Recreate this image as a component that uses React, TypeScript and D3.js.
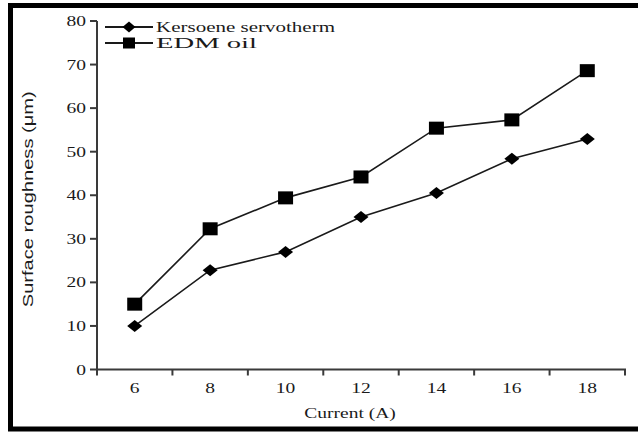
import { useEffect, useRef } from "react";
import * as d3 from "d3";

const categories = ["6", "8", "10", "12", "14", "16", "18"];
const kerosene = [10, 22.8, 27, 35, 40.5, 48.4, 52.9];
const edmOil = [15, 32.3, 39.4, 44.2, 55.4, 57.3, 68.6];
const yTicks = [0, 10, 20, 30, 40, 50, 60, 70, 80];
const seriesNames = ["Kersoene servotherm", "EDM oil"];

const W = 638;
const H = 432;
const SX = 1.3; // the source image is stretched sideways

export default function App() {
  const svgRef = useRef<SVGSVGElement>(null);

  useEffect(() => {
    if (!svgRef.current) return;
    const svg = d3.select(svgRef.current);
    svg.selectAll("*").remove();

    const ink = "#1a1a1a";
    const axisInk = "#3a3a3a";

    const x = d3.scaleBand<string>().domain(categories).range([97, 625]).padding(0);
    const y = d3.scaleLinear().domain([0, 80]).range([369.5, 21]);
    const bw = x.bandwidth();
    const cx = (c: string) => (x(c) as number) + bw / 2;

    // frame
    svg.append("rect")
      .attr("x", 10.5).attr("y", 5.5)
      .attr("width", 700).attr("height", 423.5)
      .attr("fill", "white")
      .attr("stroke", "#000").attr("stroke-width", 5);

    const stretched = (g: any, tx: number, ty: number, txt: string, anchor: string, size: number) =>
      g.append("text")
        .attr("transform", `translate(${tx},${ty}) scale(${SX},1)`)
        .attr("text-anchor", anchor)
        .attr("font-family", "'Liberation Serif', 'Times New Roman', serif")
        .attr("font-size", size)
        .attr("fill", ink)
        .text(txt);

    // y axis
    const y0 = y(0);
    svg.append("line")
      .attr("x1", 97).attr("x2", 97).attr("y1", y(80)).attr("y2", y0 + 1)
      .attr("stroke", axisInk).attr("stroke-width", 2);
    yTicks.forEach((t) => {
      svg.append("line")
        .attr("x1", 90).attr("x2", 97).attr("y1", y(t)).attr("y2", y(t))
        .attr("stroke", axisInk).attr("stroke-width", 2);
      stretched(svg, 86, y(t) + 5, String(t), "end", 15);
    });

    // x axis
    const [xa, xb] = x.range();
    svg.append("line")
      .attr("x1", xa - 1).attr("x2", xb + 1).attr("y1", y0).attr("y2", y0)
      .attr("stroke", axisInk).attr("stroke-width", 2);
    const edges = categories.map((c) => x(c) as number).concat([xb]);
    edges.forEach((e) => {
      svg.append("line")
        .attr("x1", e).attr("x2", e).attr("y1", y0).attr("y2", y0 + 6)
        .attr("stroke", axisInk).attr("stroke-width", 2);
    });
    categories.forEach((c) => stretched(svg, cx(c), 393, c, "middle", 15));

    stretched(svg, 350, 418, "Current (A)", "middle", 15);

    svg.append("text")
      .attr("transform", `translate(33,${(y(80) + y0) / 2 + 4}) rotate(-90)`)
      .attr("text-anchor", "middle")
      .attr("font-family", "'Liberation Sans', Arial, sans-serif")
      .attr("font-size", 15)
      .attr("textLength", 216)
      .attr("lengthAdjust", "spacingAndGlyphs")
      .attr("fill", ink)
      .text("Surface roughness (\u03bcm)");

    const line = d3.line<number>()
      .x((_, i) => cx(categories[i]))
      .y((d) => y(d));

    const diamond = (g: any, px: number, py: number, w: number, h: number) =>
      g.append("path")
        .attr("d", `M${px - w / 2},${py}L${px},${py - h / 2}L${px + w / 2},${py}L${px},${py + h / 2}Z`)
        .attr("fill", "#000");
    const square = (g: any, px: number, py: number, w: number, h: number) =>
      g.append("rect")
        .attr("x", px - w / 2).attr("y", py - h / 2)
        .attr("width", w).attr("height", h)
        .attr("fill", "#000");

    [kerosene, edmOil].forEach((vals, si) => {
      svg.append("path")
        .attr("d", line(vals) as string)
        .attr("fill", "none")
        .attr("stroke", ink)
        .attr("stroke-width", 1.6);
      vals.forEach((v, i) => {
        if (si === 0) diamond(svg, cx(categories[i]), y(v), 15, 12);
        else square(svg, cx(categories[i]), y(v), 15, 13);
      });
    });

    // legend
    const legendY = [27, 43];
    seriesNames.forEach((name, i) => {
      const ly = legendY[i];
      svg.append("line")
        .attr("x1", 105).attr("x2", 153).attr("y1", ly).attr("y2", ly)
        .attr("stroke", ink).attr("stroke-width", 1.8);
      if (i === 0) diamond(svg, 129, ly, 13, 11);
      else square(svg, 129, ly, 12, 11);
      svg.append("text")
        .attr("x", 156).attr("y", ly + 5)
        .attr("font-family", "'Liberation Serif', 'Times New Roman', serif")
        .attr("font-size", 15)
        .attr("textLength", i === 0 ? 179 : 101)
        .attr("lengthAdjust", "spacingAndGlyphs")
        .attr("fill", ink)
        .text(name);
    });
  }, []);

  return (
    <svg
      ref={svgRef}
      width={W}
      height={H}
      style={{ position: "absolute", left: 0, top: 0, background: "white" }}
    />
  );
}
